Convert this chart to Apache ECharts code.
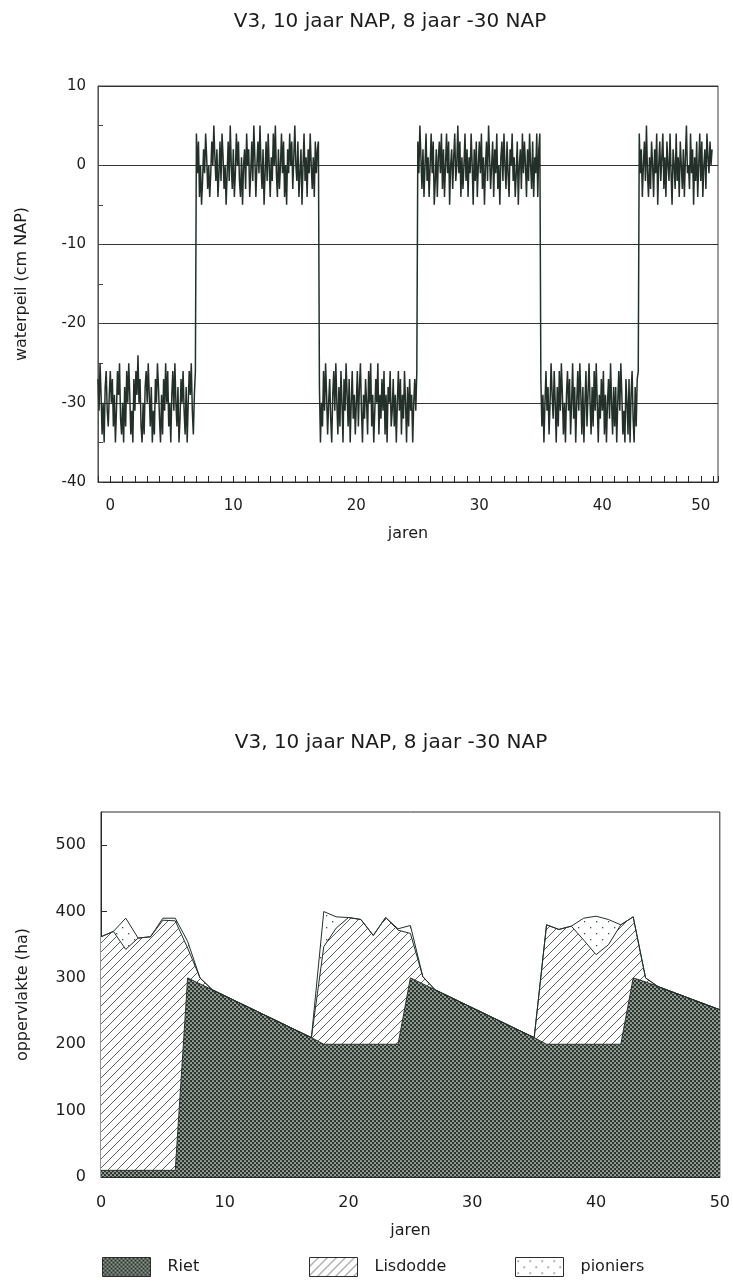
<!DOCTYPE html>
<html>
<head>
<meta charset="utf-8">
<script src="https://cdn.jsdelivr.net/npm/echarts@6/dist/echarts.min.js"></script>
<style>
  html, body { margin: 0; padding: 0; background: #ffffff; }
  #chart { width: 733px; height: 1281px; }
</style>
</head>
<body>
<div id="chart"></div>
<script>
// Scenario V3: 10 jaar peil op NAP, 8 jaar op -30 cm NAP
const titel = 'V3, 10 jaar NAP, 8 jaar -30 NAP';

// Waterpeil (cm NAP), maandwaarden per periode
const periodeStart = [-1, 7, 17, 25, 35, 43];
const maandenPerJaar = 12;

const peilA = [ // -30 NAP, jaar -1 t/m 6
  -27, -31, -25, -29, -34, -30, -35, -28, -26, -31, -33, -29,
  -26, -30, -27, -33, -29, -35, -31, -26, -29, -25, -32, -34,
  -30, -35, -28, -33, -26, -30, -25, -29, -34, -31, -35, -27,
  -31, -26, -29, -24, -30, -27, -33, -35, -30, -34, -28, -26,
  -30, -25, -29, -33, -28, -35, -31, -34, -27, -30, -25, -28,
  -32, -35, -29, -34, -27, -31, -25, -30, -26, -33, -30, -35,
  -29, -26, -31, -25, -30, -33, -28, -35, -32, -27, -30, -26,
  -31, -34, -28, -35, -30, -26, -29, -25, -31, -34, -29, -26
];
const peilB = [ // NAP, jaar 7 t/m 16
  4, -1, 3, -4, 0, -5, -2, 2, -1, 4, 1, -3,
  0, -4, -1, 3, 0, 5, 1, -2, 2, -4, -1, 3,
  -2, 4, 1, -3, 0, -5, -1, 3, -2, 5, 0, -3,
  2, -4, -1, 4, 0, 3, -2, -4, 1, -5, 0, 2,
  -3, 4, 0, 2, -4, -1, 3, -2, 5, 1, -4, 0,
  3, -1, 5, 0, -3, 2, -5, -1, 3, -2, 4, 0,
  -4, 1, -2, 4, 0, 5, -1, -4, 2, -3, 0, 4,
  -1, 3, -4, 0, -5, 2, -1, 4, 0, 3, -3, 1,
  5, 0, -2, 3, -4, -1, 2, -5, 0, 4, -2, 1,
  -4, 2, -1, 4, 0, -3, 1, -4, 3, -1, 2, 3
];
const peilC = [ // -30 NAP, jaar 17 t/m 24
  -28, -35, -30, -33, -26, -31, -25, -29, -34, -30, -27, -32,
  -35, -29, -26, -31, -25, -30, -34, -28, -33, -26, -30, -35,
  -27, -31, -25, -29, -33, -27, -35, -30, -26, -32, -29, -34,
  -30, -26, -33, -28, -25, -31, -35, -29, -32, -27, -30, -34,
  -26, -30, -25, -33, -29, -35, -31, -27, -30, -25, -34, -29,
  -32, -27, -31, -26, -34, -29, -35, -28, -30, -26, -33, -31,
  -27, -33, -29, -35, -30, -26, -31, -27, -34, -29, -32, -26,
  -30, -35, -28, -33, -27, -31, -29, -35, -30, -27, -31, -26
];
const peilD = [ // NAP, jaar 25 t/m 34
  3, -1, 5, 1, -3, 2, -4, 0, 4, -2, 1, -4,
  0, 4, -1, 3, -5, -2, 2, -4, 1, 3, -1, 4,
  -3, 2, -4, 0, 4, -1, 3, -5, 0, 2, -3, 1,
  4, -2, 0, 5, -1, 3, -4, 1, -3, 0, 4, -2,
  2, -4, 1, -1, 4, 0, -5, 2, -2, 3, -4, 0,
  3, -1, 4, -3, 1, -5, 0, 3, -2, 5, 1, -3,
  0, 3, -4, 2, -1, 4, -3, 0, -5, 1, 3, -2,
  4, 0, -3, 3, -1, -4, 2, 0, 4, -2, 1, -4,
  -1, 3, -5, 0, 2, -3, 4, -1, 3, 0, -4, 2,
  -2, 4, 0, -3, 3, -4, 1, -1, 4, -4, 2, 4
];
const peilE = [ // -30 NAP, jaar 35 t/m 42
  -27, -33, -29, -35, -30, -26, -31, -28, -34, -30, -25, -29,
  -32, -26, -30, -35, -28, -33, -26, -31, -25, -29, -34, -30,
  -35, -29, -26, -31, -27, -34, -30, -25, -32, -28, -35, -30,
  -26, -31, -25, -29, -34, -28, -35, -30, -26, -33, -29, -25,
  -30, -34, -28, -33, -26, -31, -25, -30, -35, -29, -32, -27,
  -31, -26, -34, -29, -35, -30, -27, -32, -25, -30, -34, -28,
  -33, -28, -35, -30, -26, -31, -25, -29, -34, -31, -35, -27,
  -30, -34, -27, -35, -29, -26, -32, -35, -28, -33, -27, -26
];
const peilF = [ // NAP, jaar 43 t/m 48
  4, -1, 2, -4, 0, 3, -2, 5, -1, -4, 1, -3,
  3, 0, -4, 2, -1, 4, -5, 0, 3, -2, 1, 4,
  -3, 1, -4, 3, 0, -2, 4, -1, -5, 2, 0, -3,
  4, -2, 1, -4, 3, 0, -3, 2, -4, 1, 5, -1,
  0, -3, 4, -1, 2, -5, 1, -2, 3, -4, 0, 4,
  -2, 3, -4, 0, 2, -3, 4, 1, -1, 3, 0, 2
];

// Begroeiing (ha) per jaar
const jaren = [0, 1, 2, 3, 4, 5, 6, 7, 8, 9, 10, 11, 12, 13, 14, 15, 16, 17, 18, 19, 20,
  21, 22, 23, 24, 25, 26, 27, 28, 29, 30, 31, 32, 33, 34, 35, 36, 37, 38, 39, 40,
  41, 42, 43, 44, 45, 46, 47, 48, 49, 50];
const riet = [10, 10, 10, 10, 10, 10, 10, 300, 291, 282, 273, 264, 255, 246, 237, 228, 219,
  210, 200, 200, 200, 200, 200, 200, 200, 300, 291, 282, 273, 264, 255, 246, 237, 228, 219,
  210, 200, 200, 200, 200, 200, 200, 200, 300, 294, 287, 280, 273, 266, 259, 252];
const lisdodde = [352, 360, 333, 350, 352, 377, 376, 45, 9, 0, 0, 0, 0, 0, 0, 0, 0,
  0, 147, 175, 191, 188, 164, 191, 172, 67, 11, 0, 0, 0, 0, 0, 0, 0, 0,
  0, 180, 173, 178, 157, 135, 150, 180, 92, 6, 0, 0, 0, 0, 0, 0];
const pioniers = [0, 0, 47, 0, 0, 3, 4, 10, 0, 0, 0, 0, 0, 0, 0, 0, 0,
  0, 53, 17, 0, 0, 0, 0, 2, 12, 0, 0, 0, 0, 0, 0, 0, 0, 0,
  0, 0, 0, 0, 33, 58, 38, 0, 0, 0, 0, 0, 0, 0, 0, 0];

// Axis ticks and labels
const peilTicks = [10, 0, -10, -20, -30, -40];
const jaarLabels = [0, 10, 20, 30, 40, 50];
const oppTicks = [0, 100, 200, 300, 400, 500];

const FONT = 'DejaVu Sans';
const INK = '#1c1c1c';
const LINE = '#233029';

// Fill patterns drawn on small tiles
function tile(w, h, draw) {
  const c = document.createElement('canvas');
  c.width = w; c.height = h;
  const ctx = c.getContext('2d');
  draw(ctx, w, h);
  return c;
}
const rietTile = tile(4, 4, (ctx) => {
  ctx.fillStyle = '#2a372f';
  ctx.fillRect(0, 0, 4, 4);
  ctx.fillStyle = '#f4f4f0';
  ctx.beginPath(); ctx.arc(1, 1, 0.85, 0, Math.PI * 2); ctx.fill();
  ctx.beginPath(); ctx.arc(3, 3, 0.85, 0, Math.PI * 2); ctx.fill();
});
const lisTile = tile(9, 9, (ctx, w, h) => {
  ctx.fillStyle = '#ffffff';
  ctx.fillRect(0, 0, w, h);
  ctx.strokeStyle = '#4a4f4b';
  ctx.lineWidth = 0.9;
  ctx.beginPath();
  ctx.moveTo(-1, h + 1); ctx.lineTo(w + 1, -1);
  ctx.moveTo(-1, 1); ctx.lineTo(1, -1);
  ctx.moveTo(w - 1, h + 1); ctx.lineTo(w + 1, h - 1);
  ctx.stroke();
});
const pionTile = tile(12, 12, (ctx, w, h) => {
  ctx.fillStyle = '#ffffff';
  ctx.fillRect(0, 0, w, h);
  ctx.fillStyle = '#4a4f4b';
  ctx.fillRect(2, 3, 1.3, 1.3);
  ctx.fillRect(8, 9, 1.3, 1.3);
});
const pat = (c) => ({ image: c, repeat: 'repeat' });

// Monthly water level points
const peilData = [];
[peilA, peilB, peilC, peilD, peilE, peilF].forEach((reeks, k) => {
  reeks.forEach((v, j) => peilData.push([periodeStart[k] + j / maandenPerJaar, v]));
});

const chart = echarts.init(document.getElementById('chart'), null, { renderer: 'canvas' });

const legendItem = (name, c, left) => ({
  left: left, top: 1257, padding: 0,
  itemWidth: 48, itemHeight: 19, icon: 'rect',
  selectedMode: false,
  textStyle: { fontFamily: FONT, fontSize: 16, color: INK, padding: [0, 0, 0, 12] },
  data: [{ name: name, itemStyle: { color: pat(c), borderColor: '#2a2f2b', borderWidth: 1 } }]
});

chart.setOption({
  animation: false,
  backgroundColor: '#ffffff',
  textStyle: { fontFamily: FONT, color: INK },
  title: [
    { text: titel, left: 385, textAlign: 'center', top: 7,
      textStyle: { fontFamily: FONT, fontSize: 20, fontWeight: 'normal', color: INK } },
    { text: titel, left: 386, textAlign: 'center', top: 728,
      textStyle: { fontFamily: FONT, fontSize: 20, fontWeight: 'normal', color: INK } }
  ],
  legend: [
    legendItem('Riet', rietTile, 102),
    legendItem('Lisdodde', lisTile, 309),
    legendItem('pioniers', pionTile, 515)
  ],
  grid: [
    { left: 98, top: 86, width: 620, height: 396, show: true, borderColor: '#3a3a3a', borderWidth: 1 },
    { left: 101, top: 812, width: 624, height: 365, show: true, borderColor: '#2a2a2a', borderWidth: 1 }
  ],
  xAxis: [
    {
      // yearly ticks; labels every ten years
      gridIndex: 0, type: 'value', min: -1, max: 49.4, interval: 1,
      axisLine: { onZero: false, lineStyle: { color: '#2a2a2a', width: 1 } },
      axisTick: { show: true, inside: true, length: 6, lineStyle: { color: '#2a2a2a', width: 1 } },
      axisLabel: {
        customValues: [0, 10, 20, 30, 40, 48],
        formatter: (v) => (v >= 48 ? String(jaarLabels[5]) : String(v)),
        margin: 17, fontSize: 15, color: INK, fontFamily: FONT
      },
      splitLine: { show: false },
      name: 'jaren', nameLocation: 'middle', nameGap: 44,
      nameTextStyle: { fontSize: 16, color: INK, fontFamily: FONT }
    },
    {
      gridIndex: 1, type: 'category', data: jaren, boundaryGap: false,
      axisLine: { onZero: false, lineStyle: { color: '#2a2a2a', width: 1 } },
      axisTick: { show: false },
      axisLabel: { interval: 9, margin: 18, fontSize: 16, color: INK, fontFamily: FONT },
      splitLine: { show: false },
      name: 'jaren', nameLocation: 'middle', nameGap: 46,
      nameTextStyle: { fontSize: 16, color: INK, fontFamily: FONT }
    }
  ],
  yAxis: [
    {
      gridIndex: 0, type: 'value', min: -40, max: 10, interval: 10,
      axisLine: { show: true, onZero: false, lineStyle: { color: '#555', width: 1 } },
      axisTick: { show: true, inside: true, length: 5, lineStyle: { color: '#444' } },
      minorTick: { show: true, splitNumber: 2, length: 5, lineStyle: { color: '#444' } },
      axisLabel: { customValues: peilTicks, margin: 12, fontSize: 15, color: INK, fontFamily: FONT },
      splitLine: { show: true, lineStyle: { color: '#333', width: 1 } },
      name: 'waterpeil (cm NAP)', nameLocation: 'middle', nameGap: 68,
      nameTextStyle: { fontSize: 16, color: INK, fontFamily: FONT }
    },
    {
      gridIndex: 1, type: 'value', min: 0, max: 550,
      axisLine: { show: true, onZero: false, lineStyle: { color: '#2a2a2a', width: 1 } },
      axisTick: { show: true, inside: true, length: 6, customValues: oppTicks, lineStyle: { color: '#2a2a2a' } },
      axisLabel: { customValues: oppTicks, margin: 15, fontSize: 16, color: INK, fontFamily: FONT },
      splitLine: { show: false },
      name: 'oppervlakte (ha)', nameLocation: 'middle', nameGap: 70,
      nameTextStyle: { fontSize: 16, color: INK, fontFamily: FONT }
    }
  ],
  series: [
    {
      name: 'waterpeil', type: 'line', xAxisIndex: 0, yAxisIndex: 0,
      data: peilData, showSymbol: false, symbol: 'none', silent: true,
      lineStyle: { color: LINE, width: 1.5 }, z: 5
    },
    {
      name: 'Riet', type: 'line', xAxisIndex: 1, yAxisIndex: 1, stack: 'begroeiing',
      data: riet, symbol: 'none', silent: true,
      lineStyle: { color: LINE, width: 1 },
      areaStyle: { color: pat(rietTile), opacity: 1 }
    },
    {
      name: 'Lisdodde', type: 'line', xAxisIndex: 1, yAxisIndex: 1, stack: 'begroeiing',
      data: lisdodde, symbol: 'none', silent: true,
      lineStyle: { color: LINE, width: 1 },
      areaStyle: { color: pat(lisTile), opacity: 1 }
    },
    {
      name: 'pioniers', type: 'line', xAxisIndex: 1, yAxisIndex: 1, stack: 'begroeiing',
      data: pioniers, symbol: 'none', silent: true,
      lineStyle: { color: LINE, width: 1 },
      areaStyle: { color: pat(pionTile), opacity: 1 }
    }
  ]
});
</script>
</body>
</html>
